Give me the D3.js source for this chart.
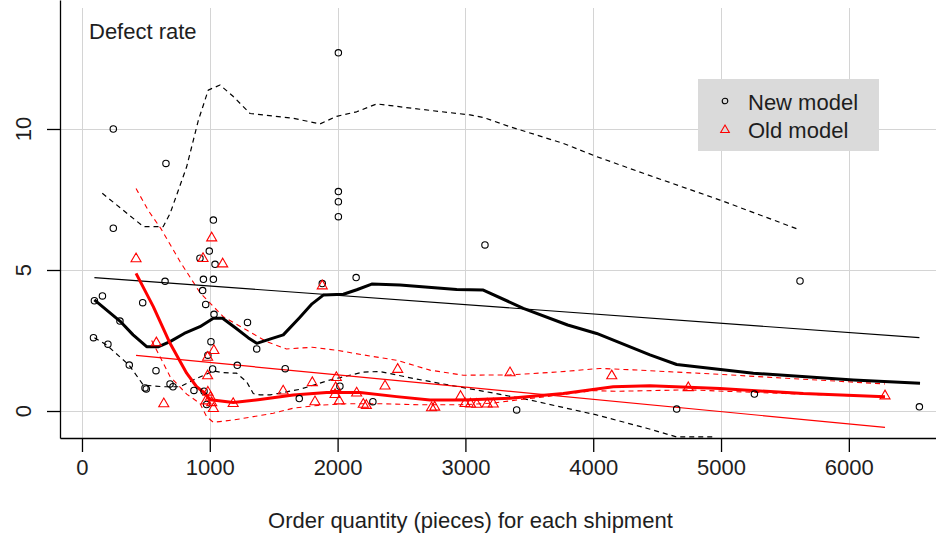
<!DOCTYPE html>
<html>
<head>
<meta charset="utf-8">
<script src="https://cdn.jsdelivr.net/npm/d3@7"></script>
<style>
  body { margin: 0; background: #fff; }
  svg { display: block; }
  text { font-family: "Liberation Sans", Arial, sans-serif; fill: #1e1e1e; }
</style>
</head>
<body>
<svg id="chart" width="936" height="533"></svg>
<script>
// Axis ticks
const xTicks = [0, 1000, 2000, 3000, 4000, 5000, 6000];
const yTicks = [0, 5, 10];

// Shipments: [order quantity, defect rate]
const newModelPoints = [
  [97, 3.91], [160, 4.08], [90, 2.6], [203, 2.37], [245, 10.0], [245, 6.48],
  [297, 3.19], [370, 1.63], [475, 3.84], [493, 0.82], [503, 0.78], [579, 1.43],
  [650, 4.6], [657, 8.78], [689, 0.96], [712, 0.86], [876, 0.73], [923, 5.42],
  [944, 4.27], [950, 4.67], [955, 0.7], [968, 3.78], [975, 0.23], [985, 1.98],
  [996, 5.67], [1009, 2.46], [1022, 1.49], [1028, 4.67], [1028, 6.77], [1033, 3.43],
  [1041, 5.2], [1215, 1.62], [1295, 3.14], [1367, 2.2], [1590, 1.5], [1700, 0.44],
  [1880, 4.52], [2006, 12.7], [2006, 7.78], [2006, 7.42], [2006, 6.89], [2018, 0.88],
  [2145, 4.73], [2276, 0.33], [3153, 5.89], [3401, 0.04], [4653, 0.07], [5261, 0.6],
  [5618, 4.61], [6552, 0.15]
];
const oldModelPoints = [
  [423, 5.43], [582, 2.45], [640, 0.29], [947, 5.44], [1015, 6.17], [1101, 5.25],
  [1032, 2.18], [983, 1.94], [983, 1.28], [970, 0.39], [985, 0.7], [1005, 0.52],
  [1015, 0.33], [1028, 0.12], [1183, 0.3], [1574, 0.74], [1802, 1.04], [1823, 0.36],
  [1880, 4.47], [1990, 1.22], [1985, 0.86], [1980, 0.62], [2013, 0.39], [2149, 0.67],
  [2201, 0.27], [2225, 0.23], [2371, 0.92], [2470, 1.51], [2735, 0.15], [2760, 0.17],
  [2962, 0.55], [2997, 0.3], [3040, 0.28], [3088, 0.27], [3170, 0.28], [3218, 0.28],
  [3349, 1.39], [4145, 1.28], [4744, 0.86], [6283, 0.57]
];

// New model: smoothed curve with upper / lower bands, and linear trend
const newFit = [
  [97, 3.94], [297, 3.19], [400, 2.7], [506, 2.28], [600, 2.28], [689, 2.46],
  [800, 2.75], [923, 2.99], [1028, 3.29], [1100, 3.29], [1200, 2.95], [1300, 2.6],
  [1367, 2.4], [1470, 2.55], [1575, 2.7], [1700, 3.3], [1800, 3.8], [1888, 4.11],
  [2045, 4.14], [2150, 4.3], [2267, 4.5], [2488, 4.47], [2932, 4.31], [3140, 4.29],
  [3453, 3.64], [3800, 3.05], [4027, 2.75], [4444, 1.99], [4653, 1.65], [5253, 1.34],
  [6035, 1.1], [6557, 0.98]
];
const newUpper = [
  [159, 7.72], [480, 6.54], [636, 6.54], [689, 7.0], [819, 8.66], [910, 10.3],
  [988, 11.38], [1080, 11.56], [1184, 11.15], [1315, 10.55], [1653, 10.38], [1862, 10.18],
  [1993, 10.45], [2149, 10.61], [2306, 10.89], [2645, 10.7], [3036, 10.5], [3140, 10.41],
  [3349, 10.08], [3766, 9.49], [4027, 9.02], [4392, 8.43], [4992, 7.48], [5618, 6.42]
];
const newLower = [
  [97, 2.6], [193, 2.34], [368, 1.63], [480, 0.92], [636, 0.86], [767, 0.86],
  [871, 1.1], [1028, 1.42], [1106, 1.36], [1210, 1.34], [1288, 1.04], [1340, 0.62],
  [1393, 0.57], [1471, 0.57], [1706, 0.77], [1940, 1.1], [2200, 1.38], [2330, 1.4],
  [2600, 1.15], [2800, 0.98], [3166, 0.68], [3505, 0.39], [4027, -0.14], [4418, -0.61],
  [4653, -0.92], [4940, -0.92]
];
const newTrend = [[97, 4.73], [6552, 2.6]];

// Old model: smoothed curve with upper / lower bands, and linear trend
const oldFit = [
  [423, 4.88], [558, 3.7], [689, 2.4], [819, 1.34], [897, 0.86], [962, 0.63],
  [1002, 0.4], [1054, 0.37], [1184, 0.3], [1393, 0.41], [1653, 0.57], [1914, 0.66],
  [2175, 0.66], [2462, 0.51], [2723, 0.39], [2984, 0.39], [3349, 0.45], [3766, 0.62],
  [4157, 0.86], [4444, 0.9], [4992, 0.8], [5644, 0.62], [6283, 0.51]
];
const oldUpper = [
  [423, 7.89], [520, 7.1], [620, 6.45], [767, 5.3], [923, 4.2], [1106, 3.34],
  [1288, 2.87], [1450, 2.45], [1600, 2.2], [1800, 2.26], [2000, 2.15], [2200, 1.99],
  [2462, 1.8], [2723, 1.45], [2984, 1.27], [3349, 1.28], [3740, 1.39], [4053, 1.51],
  [4311, 1.46], [4992, 1.3], [5514, 1.16], [6283, 0.96]
];
const oldLower = [
  [545, 2.5], [610, 1.93], [689, 1.22], [819, 0.6], [923, 0.27], [975, -0.2],
  [1028, -0.4], [1184, -0.32], [1340, -0.2], [1497, -0.08], [1653, 0.1], [1850, 0.2],
  [2071, 0.26], [2330, 0.26], [2645, 0.22], [2958, 0.22], [3218, 0.28], [3349, 0.36],
  [3610, 0.5], [4000, 0.72], [4200, 0.7], [4744, 0.75], [5500, 0.62], [6283, 0.5]
];
const oldTrend = [[423, 1.97], [6283, -0.58]];

const seriesNames = ["New model", "Old model"];
const seriesColors = ["#000000", "#ff0000"];

// Layout
const plot = { left: 60, right: 936, top: 0, bottom: 438 };
const svg = d3.select("#chart");

const x = d3.scaleLinear().domain([-172, 6682]).range([plot.left, plot.right]);
const y = d3.scaleLinear().domain([-0.957, 14.574]).range([plot.bottom, plot.top]);

svg.append("defs").append("clipPath").attr("id", "plot-clip")
  .append("rect")
  .attr("x", plot.left).attr("y", plot.top)
  .attr("width", plot.right - plot.left).attr("height", plot.bottom - plot.top);

// Grid
const crisp = v => Math.round(v) + 0.5;
const grid = svg.append("g").attr("stroke", "#d4d4d4").attr("stroke-width", 1);
grid.selectAll("line.vx").data(xTicks).join("line")
  .attr("x1", d => crisp(x(d))).attr("x2", d => crisp(x(d)))
  .attr("y1", 8).attr("y2", plot.bottom);
grid.selectAll("line.hy").data(yTicks).join("line")
  .attr("x1", plot.left).attr("x2", plot.right)
  .attr("y1", d => crisp(y(d))).attr("y2", d => crisp(y(d)));

// Curves
const line = d3.line().x(d => x(d[0])).y(d => y(d[1]));
const curves = svg.append("g").attr("clip-path", "url(#plot-clip)").attr("fill", "none");

function drawCurve(data, color, width, dash) {
  curves.append("path")
    .datum(data)
    .attr("d", line)
    .attr("stroke", color)
    .attr("stroke-width", width)
    .attr("stroke-linejoin", "round")
    .attr("stroke-dasharray", dash || null);
}

drawCurve(newUpper, seriesColors[0], 1.2, "5,4");
drawCurve(newLower, seriesColors[0], 1.2, "5,4");
drawCurve(oldUpper, seriesColors[1], 1.1, "5,4");
drawCurve(oldLower, seriesColors[1], 1.1, "5,4");
drawCurve(newTrend, seriesColors[0], 1.2);
drawCurve(oldTrend, seriesColors[1], 1.2);
drawCurve(newFit, seriesColors[0], 3);
drawCurve(oldFit, seriesColors[1], 3);

// Points
const triangle = r => `M0,${-r}L${0.866 * r},${0.5 * r}L${-0.866 * r},${0.5 * r}Z`;
const pts = svg.append("g").attr("clip-path", "url(#plot-clip)").attr("fill", "none");
pts.selectAll("circle").data(newModelPoints).join("circle")
  .attr("cx", d => x(d[0])).attr("cy", d => y(d[1])).attr("r", 3.2)
  .attr("stroke", seriesColors[0]).attr("stroke-width", 1.1);
pts.selectAll("path").data(oldModelPoints).join("path")
  .attr("transform", d => `translate(${x(d[0])},${y(d[1]) + 1})`)
  .attr("d", triangle(5.8))
  .attr("stroke", seriesColors[1]).attr("stroke-width", 1.1);

// Axes
const xAxis = d3.axisBottom(x).tickValues(xTicks).tickSize(14).tickSizeOuter(0).tickPadding(7)
  .tickFormat(d3.format("d"));
const gx = svg.append("g").attr("transform", `translate(0,${plot.bottom})`).call(xAxis);
gx.selectAll("text").attr("font-size", 22).attr("font-family", null).attr("fill", "#1e1e1e");
gx.selectAll("line,path").attr("stroke", "#000").attr("stroke-width", 1.3);
gx.attr("font-family", null);

const yAxis = d3.axisLeft(y).tickValues(yTicks).tickSize(13).tickSizeOuter(0).tickFormat("");
const gy = svg.append("g").attr("transform", `translate(${plot.left},0)`).call(yAxis);
gy.selectAll("line,path").attr("stroke", "#000").attr("stroke-width", 1.3);

svg.append("g").selectAll("text").data(yTicks).join("text")
  .attr("transform", d => `translate(31,${y(d)}) rotate(-90)`)
  .attr("text-anchor", "middle")
  .attr("font-size", 22)
  .text(d => d);

// Titles
svg.append("text")
  .attr("x", (x(0) + x(6000)) / 2 + 5).attr("y", 528)
  .attr("text-anchor", "middle").attr("font-size", 22)
  .text("Order quantity (pieces) for each shipment");

svg.append("text")
  .attr("x", 89).attr("y", 39).attr("font-size", 22)
  .text("Defect rate");

// Legend
const legend = svg.append("g").attr("transform", "translate(698,79)");
legend.append("rect").attr("width", 181).attr("height", 72).attr("fill", "#dadada");
const rows = legend.selectAll("g.row").data(seriesNames).join("g")
  .attr("transform", (d, i) => `translate(0,${22 + i * 28})`);
rows.append("text").attr("x", 50).attr("y", 9).attr("font-size", 22).text(d => d);
rows.filter((d, i) => i === 0).append("circle")
  .attr("cx", 27).attr("cy", 0).attr("r", 2.8)
  .attr("fill", "none").attr("stroke", seriesColors[0]).attr("stroke-width", 1.1);
rows.filter((d, i) => i === 1).append("path")
  .attr("transform", "translate(27,1)")
  .attr("d", triangle(5))
  .attr("fill", "none").attr("stroke", seriesColors[1]).attr("stroke-width", 1.1);
</script>
</body>
</html>
